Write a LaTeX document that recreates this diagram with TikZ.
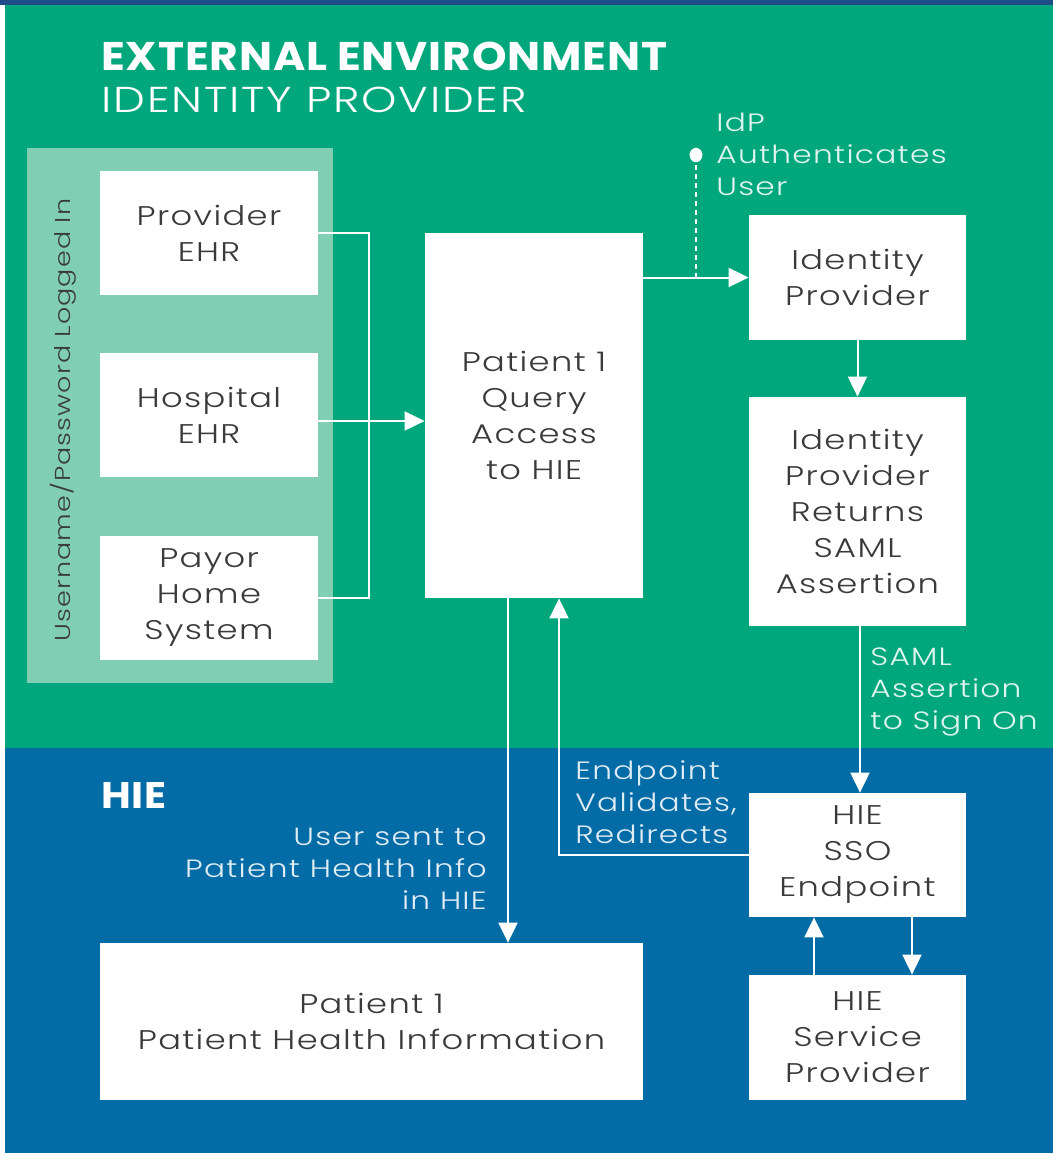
\documentclass[tikz,border=0pt]{standalone}
\usepackage{fontspec}
\setmainfont{Poppins}
\newfontfamily\thinfont{Poppins Light}[FakeStretch=1.25, LetterSpace=5]
\newfontfamily\headfont{Poppins}[FakeStretch=1.1, LetterSpace=2]
\usetikzlibrary{arrows.meta}

\definecolor{envgreen}{HTML}{00A77C}
\definecolor{panelgreen}{HTML}{80CFB5}
\definecolor{hieblue}{HTML}{036BA6}
\definecolor{topnavy}{HTML}{1F4B87}
\definecolor{boxtext}{HTML}{3A3A3A}

\tikzset{
  box/.style={fill=white, draw=none, inner sep=0pt, align=center, text=boxtext,
    font=\fontsize{13.5}{18}\selectfont\thinfont},
  flowlabel/.style={inner sep=0pt, text=white, text opacity=0.88,
    font=\fontsize{12.5}{16}\selectfont\thinfont},
  wire/.style={draw=white, line width=1pt},
  arr/.style={wire, -{Triangle[length=10pt,width=9.5pt]}},
}

\begin{document}
\begin{tikzpicture}[x=0.5pt, y=-0.5pt]
\useasboundingbox (0,0) rectangle (1053,1153);

% background bands
\fill[white] (0,0) rectangle (1053,1153);
\fill[topnavy] (0,0) rectangle (1053,5);
\fill[envgreen] (5,5) rectangle (1053,748);
\fill[hieblue] (5,748) rectangle (1053,1153);

% headings
\node[anchor=base west, inner sep=0pt, text=white, font=\fontsize{20}{24}\selectfont\headfont\bfseries]
  (envtitle) at (101,70) {EXTERNAL ENVIRONMENT};
\node[anchor=base west, inner sep=0pt, text=white, font=\fontsize{18}{22}\selectfont\thinfont]
  (envsub) at (101,112) {IDENTITY PROVIDER};
\node[anchor=base west, inner sep=0pt, text=white, font=\fontsize{18.5}{22}\selectfont\headfont\bfseries]
  (hietitle) at (101,808) {HIE};

% login panel
\fill[panelgreen] (27,148) rectangle (333,683);
\node[rotate=90, inner sep=0pt, text=boxtext, font=\fontsize{10.8}{14}\selectfont\thinfont]
  (login) at (63,420) {Username/Password Logged In};

% boxes
\node[box, minimum width=109pt, minimum height=62pt] (prov) at (209,233) {Provider\\EHR};
\node[box, minimum width=109pt, minimum height=62pt] (hosp) at (209,415) {Hospital\\EHR};
\node[box, minimum width=109pt, minimum height=62pt] (payor) at (209,598) {Payor\\Home\\System};
\node[box, minimum width=109pt, minimum height=182.5pt] (query) at (534,415.5) {Patient 1\\Query\\Access\\to HIE};
\node[box, minimum width=108.5pt, minimum height=62.5pt] (idp) at (857.5,277.5) {Identity\\Provider};
\node[box, minimum width=108.5pt, minimum height=114.5pt] (saml) at (857.5,511.5) {Identity\\Provider\\Returns\\SAML\\Assertion};
\node[box, minimum width=108.5pt, minimum height=62pt] (sso) at (857.5,855) {HIE\\SSO\\Endpoint};
\node[box, minimum width=108.5pt, minimum height=62.5pt] (hsp) at (857.5,1037.5) {HIE\\Service\\Provider};
\node[box, minimum width=271.5pt, minimum height=78.5pt] (phi) at (371.5,1021.5) {Patient 1\\Patient Health Information};

% connectors
\coordinate (bracket) at (369,415);
\draw[wire] (prov.east) -| (bracket |- payor.east) -- (payor.east);
\draw[arr] ([yshift=-3pt]hosp.east) -- ([yshift=-3pt]hosp.east -| query.west);
\draw[arr] (query.east |- idp.west) -- (idp.west);
\coordinate (authdot) at (696,155);
\draw[white, line width=1pt, dash pattern=on 2.5pt off 2pt] (authdot |- idp.west) -- (authdot);
\fill[white] (authdot) ellipse (3.2pt and 3.6pt);
\draw[arr] (idp.south) -- (saml.north);
\draw[arr] ([xshift=1.25pt]saml.south) -- ([xshift=1.25pt]sso.north);
\draw[arr] ([xshift=-21.75pt]hsp.north) -- ([xshift=-21.75pt]sso.south);
\draw[arr] ([xshift=27.25pt]sso.south) -- ([xshift=27.25pt]hsp.north);
\draw[arr] ([xshift=-13pt]query.south) -- ([xshift=-13pt]query.south |- phi.north);
\draw[arr] (sso.west) -| ([xshift=12.5pt]query.south);

% connector labels
\node[flowlabel, anchor=west, align=left] (authlbl) at (716,154) {IdP\\Authenticates\\User};
\node[flowlabel, anchor=west, align=left] (signlbl) at (870,692) {SAML\\Assertion\\to Sign On};
\node[flowlabel, anchor=west, align=left] (redirlbl) at (575,802) {Endpoint\\Validates,\\Redirects};
\node[flowlabel, anchor=east, align=right] (sentlbl) at (487,869) {User sent to\\Patient Health Info\\in HIE};
\end{tikzpicture}
\end{document}
